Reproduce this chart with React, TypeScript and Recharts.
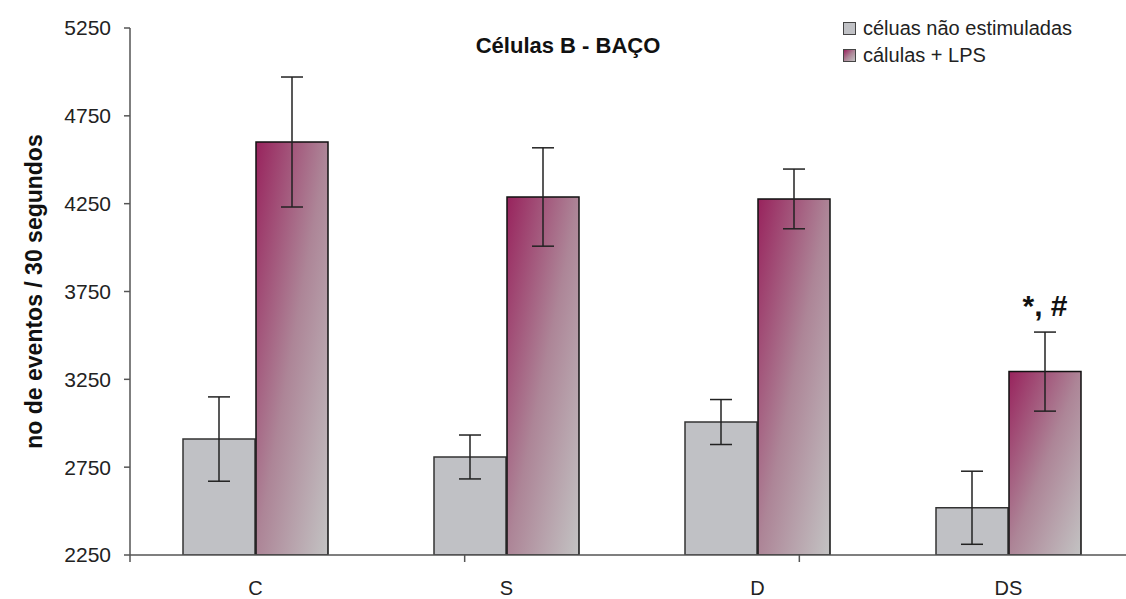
import { BarChart, Bar, XAxis, YAxis, ErrorBar, LabelList } from "recharts";

// Células B - baço: eventos por 30 s, sem estímulo vs LPS
const groups = ["C", "S", "D", "DS"];
const unstim = [2910, 2808, 3007, 2519];
const unstimErr = [240, 125, 128, 208];
const lps = [4601, 4288, 4277, 3294];
const lpsErr = [370, 280, 170, 225];
const notes = ["", "", "", "*, #"];
const yTicks = [2250, 2750, 3250, 3750, 4250, 4750, 5250];
const edgeTicks = [0, 1, 2, 3, 4];

const data = groups.map((g, i) => ({
  group: g,
  unstim: unstim[i],
  unstimErr: unstimErr[i],
  lps: lps[i],
  lpsErr: lpsErr[i],
  note: notes[i],
}));

const FONT = "Arial, 'Liberation Sans', sans-serif";

function NoteLabel(props: any) {
  const { x, y, width, value } = props;
  if (!value) return null;
  return (
    <text
      x={x + width / 2}
      y={y - 56}
      textAnchor="middle"
      fontFamily={FONT}
      fontWeight="bold"
      fontSize={30}
      fill="#111"
    >
      {value}
    </text>
  );
}

function YLabel(props: any) {
  const cy = props.viewBox.y + props.viewBox.height / 2;
  return (
    <text
      x={34}
      y={cy}
      transform={`rotate(-90, 34, ${cy})`}
      textAnchor="middle"
      dominantBaseline="central"
      fontFamily={FONT}
      fontWeight="bold"
      fontSize={23}
      fill="#111"
    >
      no de eventos / 30 segundos
    </text>
  );
}

// empty tick so only the tick lines show at the category edges
const NoTick = () => <g />;

export default function App() {
  return (
    <div
      style={{
        position: "absolute",
        left: 0,
        top: 0,
        width: 1126,
        height: 599,
        overflow: "hidden",
        background: "#fff",
        fontFamily: FONT,
      }}
    >
      <BarChart
        width={1134}
        height={599}
        data={data}
        barSize={72}
        barGap={1}
        margin={{ top: 28, right: 0, bottom: 0, left: 0 }}
      >
        <defs>
          <linearGradient id="lpsFill" x1="0" y1="0" x2="1" y2="1">
            <stop offset="0%" stopColor="#98235d" />
            <stop offset="50%" stopColor="#ad8597" />
            <stop offset="100%" stopColor="#c3c3c3" />
          </linearGradient>
        </defs>
        <XAxis
          xAxisId="a"
          type="number"
          domain={[0, 4]}
          ticks={edgeTicks}
          allowDataOverflow
          height={1}
          tick={NoTick}
          tickSize={7}
          axisLine={{ stroke: "#555", strokeWidth: 1.5 }}
          tickLine={{ stroke: "#555", strokeWidth: 1.5 }}
        />
        <XAxis
          xAxisId="b"
          dataKey="group"
          height={43}
          axisLine={false}
          tickLine={false}
          tickSize={0}
          tickMargin={25}
          tick={{ fill: "#222", fontSize: 20, fontFamily: FONT }}
        />
        <YAxis
          domain={[2250, 5250]}
          ticks={yTicks}
          allowDataOverflow
          width={130}
          tickSize={6}
          tickMargin={13}
          tick={{ fill: "#222", fontSize: 21, fontFamily: FONT }}
          axisLine={{ stroke: "#555", strokeWidth: 1.5 }}
          tickLine={{ stroke: "#555", strokeWidth: 1.5 }}
          label={<YLabel />}
        />
        <Bar
          xAxisId="b"
          dataKey="unstim"
          fill="#c0c1c5"
          stroke="#333"
          strokeWidth={1.5}
          isAnimationActive={false}
        >
          <ErrorBar dataKey="unstimErr" width={11} stroke="#222" strokeWidth={1.5} />
        </Bar>
        <Bar
          xAxisId="b"
          dataKey="lps"
          fill="url(#lpsFill)"
          stroke="#111"
          strokeWidth={1.5}
          isAnimationActive={false}
        >
          <ErrorBar dataKey="lpsErr" width={11} stroke="#222" strokeWidth={1.5} />
          <LabelList dataKey="note" content={<NoteLabel />} />
        </Bar>
      </BarChart>

      <div
        style={{
          position: "absolute",
          left: 368,
          top: 33,
          width: 400,
          textAlign: "center",
          fontWeight: "bold",
          fontSize: 22,
          color: "#111",
        }}
      >
        Células B - BAÇO
      </div>

      <div style={{ position: "absolute", left: 843, top: 15, fontSize: 20, color: "#222", lineHeight: "27px" }}>
        <div style={{ display: "flex", alignItems: "center" }}>
          <span style={{ width: 11, height: 11, background: "#c0c1c5", border: "1px solid #444", marginRight: 7 }} />
          céluas não estimuladas
        </div>
        <div style={{ display: "flex", alignItems: "center" }}>
          <span
            style={{
              width: 11,
              height: 11,
              background: "linear-gradient(135deg, #98235d, #ad8597 50%, #c3c3c3)",
              border: "1px solid #444",
              marginRight: 7,
            }}
          />
          cálulas + LPS
        </div>
      </div>
    </div>
  );
}
